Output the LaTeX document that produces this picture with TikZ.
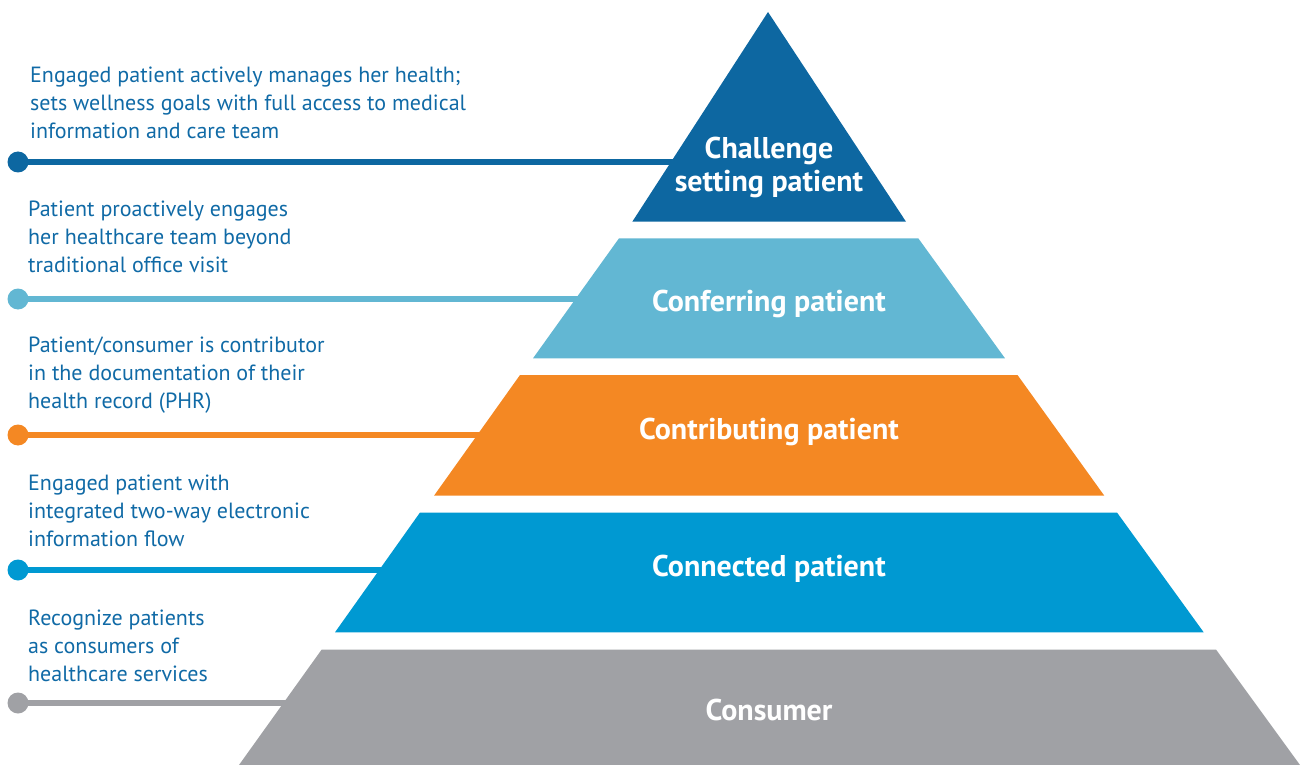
\documentclass[tikz,border=0pt]{standalone}
\usepackage{fontspec}
\setmainfont{PT Sans}
\definecolor{cA}{RGB}{13,103,161}
\definecolor{cB}{RGB}{98,183,211}
\definecolor{cC}{RGB}{244,136,35}
\definecolor{cD}{RGB}{0,153,210}
\definecolor{cE}{RGB}{160,161,165}
\definecolor{txt}{RGB}{16,106,166}
\begin{document}
\begin{tikzpicture}[x=1pt,y=-1pt,
  desc/.style={anchor=base west,inner sep=0pt,align=left,text=txt,font=\fontsize{22}{28}\selectfont},
  lvl/.style={anchor=base,text=white,align=center,inner sep=0pt,font=\bfseries\fontsize{30}{33}\selectfont},
  dotnode/.style={circle,inner sep=0pt,minimum size=21pt},
  lead/.style={line width=5.5pt}]
\useasboundingbox (0,0) rectangle (1302,765);
% leader dots and lines
\node[dotnode,fill=cA] (d1) at (18,162) {};
\node[dotnode,fill=cB] (d2) at (18,299) {};
\node[dotnode,fill=cC] (d3) at (18,435) {};
\node[dotnode,fill=cD] (d4) at (18,570) {};
\node[dotnode,fill=cE] (d5) at (18,703) {};
\coordinate (e1) at (690,162);
\coordinate (e2) at (590,299);
\coordinate (e3) at (495,435);
\coordinate (e4) at (395,570);
\coordinate (e5) at (300,703);
\draw[lead,cA] (d1.center) -- (e1);
\draw[lead,cB] (d2.center) -- (e2);
\draw[lead,cC] (d3.center) -- (e3);
\draw[lead,cD] (d4.center) -- (e4);
\draw[lead,cE] (d5.center) -- (e5);
% pyramid
\fill[cA] (768,12) -- (906,221.7) -- (632.3,221.7) -- cycle;
\fill[cB] (619,238.3) -- (918.3,238.3) -- (1005,358.3) -- (533,358.3) -- cycle;
\fill[cC] (520,375) -- (1017.5,375) -- (1104.3,495.7) -- (434,495.7) -- cycle;
\fill[cD] (420,512.5) -- (1117,512.5) -- (1203.7,632.3) -- (335,632.3) -- cycle;
\fill[cE] (321.7,649.5) -- (1216,649.5) -- (1300,765) -- (239,765) -- cycle;
% level labels
\node[lvl] (l1) at (769,192) {Challenge\\setting patient};
\node[lvl] (l2) at (769,311) {Conferring patient};
\node[lvl] (l3) at (769,439) {Contributing patient};
\node[lvl] (l4) at (769,576) {Connected patient};
\node[lvl] (l5) at (769,720) {Consumer};
% descriptions
\node[desc] (t1) at (30,139) {Engaged patient actively manages her health;\\sets wellness goals with full access to medical\\information and care team};
\node[desc] (t2) at (28,272) {Patient proactively engages\\her healthcare team beyond\\traditional office visit};
\node[desc] (t3) at (28,408) {Patient/consumer is contributor\\in the documentation of their\\health record (PHR)};
\node[desc] (t4) at (28,546) {Engaged patient with\\integrated two-way electronic\\information flow};
\node[desc] (t5) at (28,681) {Recognize patients\\as consumers of\\healthcare services};
\end{tikzpicture}
\end{document}
